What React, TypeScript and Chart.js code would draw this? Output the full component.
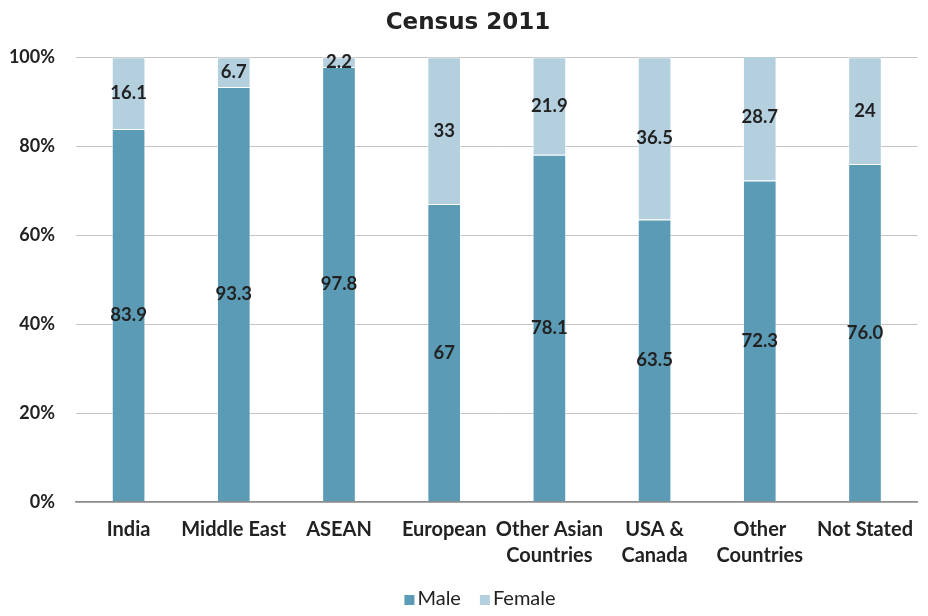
import React, { useEffect, useRef } from "react";
import { Chart, registerables } from "chart.js";

Chart.register(...registerables);

const categories: (string | string[])[] = [
  "India",
  "Middle East",
  "ASEAN",
  "European",
  ["Other Asian", "Countries"],
  ["USA &", "Canada"],
  ["Other", "Countries"],
  "Not Stated",
];
const maleValues = [83.9, 93.3, 97.8, 67, 78.1, 63.5, 72.3, 76.0];
const femaleValues = [16.1, 6.7, 2.2, 33, 21.9, 36.5, 28.7, 24];
const maleLabels = ["83.9", "93.3", "97.8", "67", "78.1", "63.5", "72.3", "76.0"];
const femaleLabels = ["16.1", "6.7", "2.2", "33", "21.9", "36.5", "28.7", "24"];
const yTicks = [0, 20, 40, 60, 80, 100];

const FONT = "Lato, 'Open Sans', sans-serif";
const TEXT = "#222222";
const MALE = "rgb(91,155,181)";
const FEMALE = "rgb(180,208,223)";

const labelPlugin = {
  id: "barLabels",
  afterDatasetsDraw(chart: any) {
    const ctx = chart.ctx;
    ctx.save();
    ctx.font = `bold 18.5px ${FONT}`;
    ctx.fillStyle = TEXT;
    ctx.textAlign = "center";
    ctx.textBaseline = "middle";
    const sets = [maleLabels, femaleLabels];
    chart.data.datasets.forEach((_ds: any, di: number) => {
      const meta = chart.getDatasetMeta(di);
      meta.data.forEach((bar: any, i: number) => {
        const y = (bar.y + bar.base) / 2;
        ctx.fillText(sets[di][i], bar.x, y);
      });
    });
    ctx.restore();
  },
};

const legendPlugin = {
  id: "bottomLegend",
  afterDraw(chart: any) {
    const ctx = chart.ctx;
    ctx.save();
    ctx.font = `20px ${FONT}`;
    ctx.textBaseline = "middle";
    ctx.textAlign = "left";
    const items = chart.data.datasets.map((ds: any) => ({
      text: ds.label,
      color: ds.backgroundColor,
    }));
    const box = 10;
    const gapBoxText = 3;
    const gapItems = 19;
    const widths = items.map((it: any) => box + gapBoxText + ctx.measureText(it.text).width);
    const total = widths.reduce((a: number, b: number) => a + b, 0) + gapItems * (items.length - 1);
    let x = 472 - total / 2;
    const cy = chart.height - 9;
    items.forEach((it: any, i: number) => {
      ctx.fillStyle = it.color;
      ctx.fillRect(x, cy - 4, box, box);
      ctx.fillStyle = TEXT;
      ctx.fillText(it.text, x + box + gapBoxText, cy);
      x += widths[i] + gapItems;
    });
    ctx.restore();
  },
};

export default function App() {
  const ref = useRef<HTMLCanvasElement | null>(null);
  useEffect(() => {
    if (!ref.current) return;
    const chart = new Chart(ref.current, {
      type: "bar",
      data: {
        labels: categories,
        datasets: [
          {
            label: "Male",
            data: maleValues,
            backgroundColor: MALE,
            borderColor: "rgba(255,255,255,0.6)",
            borderWidth: 1,
            barPercentage: 0.32,
            categoryPercentage: 1,
          },
          {
            label: "Female",
            data: femaleValues,
            backgroundColor: FEMALE,
            borderColor: "rgba(255,255,255,0.6)",
            borderWidth: 1,
            barPercentage: 0.32,
            categoryPercentage: 1,
          },
        ],
      },
      options: {
        animation: false,
        responsive: true,
        maintainAspectRatio: false,
        layout: { padding: { top: 0, right: 0, left: 0, bottom: 0 } },
        plugins: {
          title: {
            display: true,
            text: "Census 2011",
            color: TEXT,
            font: { family: "'DejaVu Sans', sans-serif", size: 23, weight: "bold", lineHeight: 1.1 },
            padding: { top: 2, bottom: 22 },
          },
          legend: { display: false },
          tooltip: { enabled: false },
        },
        scales: {
          x: {
            stacked: true,
            grid: { display: false, drawTicks: false },
            border: { display: true, color: "#8c8c8c", width: 1.5 },
            afterFit: (scale: any) => {
              scale.height = 106;
            },
            ticks: {
              color: TEXT,
              font: { family: FONT, size: 20, weight: "bold", lineHeight: 1.27 },
              padding: 15,
              maxRotation: 0,
              autoSkip: false,
            },
          },
          y: {
            stacked: true,
            min: 0,
            max: 100,
            afterBuildTicks: (scale: any) => {
              scale.ticks = yTicks.map((v) => ({ value: v }));
            },
            afterFit: (scale: any) => {
              scale.width = 68;
            },
            grid: {
              color: (c: any) => (c.tick && c.tick.value === 0 ? "#8c8c8c" : "#c4c4c4"),
              lineWidth: (c: any) => (c.tick && c.tick.value === 0 ? 1.5 : 1),
              drawTicks: false,
            },
            border: { display: false },
            ticks: {
              color: TEXT,
              font: { family: FONT, size: 18, weight: "bold" },
              padding: 21,
              callback: (v: any) => `${v}%`,
            },
          },
        },
      },
      plugins: [labelPlugin, legendPlugin],
    });
    return () => chart.destroy();
  }, []);
  return (
    <div style={{ width: 920, height: 600, position: "relative" }}>
      <canvas ref={ref} />
    </div>
  );
}
